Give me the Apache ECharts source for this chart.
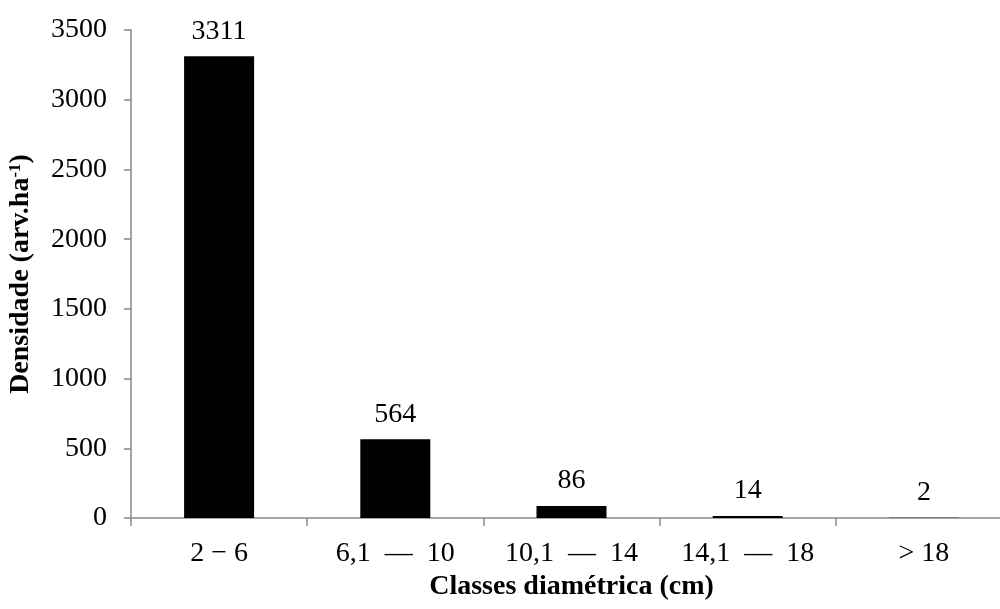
<!DOCTYPE html>
<html>
<head>
<meta charset="utf-8">
<script src="https://cdn.jsdelivr.net/npm/echarts@6/dist/echarts.min.js"></script>
<style>
html,body{margin:0;padding:0;background:#fff;}
#c{width:1000px;height:609px;}
</style>
</head>
<body>
<div id="c"></div>
<script>
const categories = ['2 − 6', '6,1  —  10', '10,1  —  14', '14,1  —  18', '> 18'];
const densidade = [3311, 564, 86, 14, 2];
const yTicks = { min: 0, max: 3500, interval: 500 };

const FONT = '"Liberation Serif", "Times New Roman", serif';
const chart = echarts.init(document.getElementById('c'), null, { renderer: 'canvas' });
chart.setOption({
  animation: false,
  backgroundColor: '#fff',
  grid: { left: 131, top: 30, width: 881, height: 488, containLabel: false, outerBoundsMode: 'none' },
  xAxis: {
    type: 'category',
    data: categories,
    name: 'Classes diamétrica (cm)',
    nameLocation: 'middle',
    nameGap: 55,
    nameTextStyle: { fontFamily: FONT, fontSize: 28, fontWeight: 'bold', color: '#000' },
    axisLine: { lineStyle: { color: '#898989', width: 1.5 } },
    axisTick: { show: true, alignWithLabel: false, length: 8, lineStyle: { color: '#898989', width: 1.5 } },
    axisLabel: { fontFamily: FONT, fontSize: 28, color: '#000', margin: 22 },
    splitLine: { show: false }
  },
  yAxis: {
    type: 'value',
    min: yTicks.min, max: yTicks.max, interval: yTicks.interval,
    name: '{t|Densidade (arv.ha}{s|-1}{t|)}',
    nameLocation: 'middle',
    nameGap: 96,
    nameTextStyle: {
      rich: {
        t: { fontFamily: FONT, fontSize: 28, fontWeight: 'bold', color: '#000' },
        s: { fontFamily: FONT, fontSize: 17, fontWeight: 'bold', color: '#000', verticalAlign: 'top', padding: [0, 0, 10, 0] }
      }
    },
    axisLine: { show: true, lineStyle: { color: '#898989', width: 1.5 } },
    axisTick: { show: true, length: 7, lineStyle: { color: '#898989', width: 1.5 } },
    axisLabel: { fontFamily: FONT, fontSize: 28, color: '#000', margin: 24, formatter: v => String(v) },
    splitLine: { show: false }
  },
  series: [{
    type: 'bar',
    data: densidade,
    barWidth: 70,
    itemStyle: { color: '#000' },
    label: { show: true, position: 'top', distance: 11, fontFamily: FONT, fontSize: 28, color: '#000' }
  }]
});
</script>
</body>
</html>
